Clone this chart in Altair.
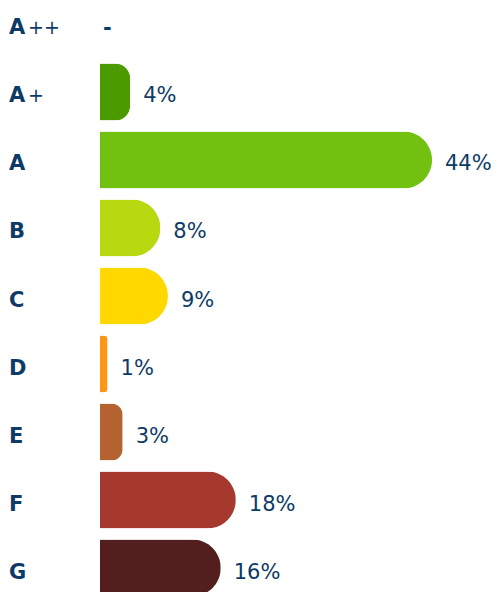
import altair as alt
import pandas as pd

classes = ["A++", "A+", "A", "B", "C", "D", "E", "F", "G"]
letters = ["A", "A", "A", "B", "C", "D", "E", "F", "G"]
suffixes = ["++", "+", "", "", "", "", "", "", ""]
values = [None, 4, 44, 8, 9, 1, 3, 18, 16]
labels = ["-", "4%", "44%", "8%", "9%", "1%", "3%", "18%", "16%"]
colors = ["#3f8f00", "#4b9a00", "#72c110", "#b8d80f", "#ffd800", "#ff9618", "#b4622f", "#a6392e", "#521e1e"]

df = pd.DataFrame({
    "cls": classes, "letter": letters, "suffix": suffixes,
    "value": values, "label": labels, "color": colors,
})

navy = "#0d3a66"
font = "DejaVu Sans"
y = alt.Y("cls:N", sort=classes, axis=None,
          scale=alt.Scale(range=[-4.5, 596.5], paddingInner=0.162, paddingOuter=0))
xs = alt.Scale(domain=[0, 44], range=[100, 432], nice=False, zero=True)

base = alt.Chart(df)

bars = base.transform_filter("datum.value != null").mark_bar(
    cornerRadiusEnd=28.5, orient="horizontal"
).encode(
    x=alt.X("value:Q", scale=xs, axis=None),
    y=y,
    color=alt.Color("color:N", scale=None),
)

vals = base.transform_filter("datum.value != null").mark_text(
    align="left", baseline="middle", dx=13, dy=4.5, font=font, fontSize=21, color=navy
).encode(x=alt.X("value:Q", scale=xs, axis=None), y=y, text="label:N")

dash = base.transform_filter("datum.value == null").mark_text(
    align="left", baseline="middle", dx=3, dy=5, font=font, fontSize=21, fontWeight="bold", color=navy
).encode(x=alt.value(100), y=y, text="label:N")

lett = base.mark_text(
    align="left", baseline="middle", dy=4.5, font=font, fontSize=21, fontWeight="bold", color=navy
).encode(x=alt.value(9), y=y, text="letter:N")

suf = base.transform_filter("datum.suffix != ''").mark_text(
    align="left", baseline="middle", dy=4.5, font=font, fontSize=19, color=navy
).encode(x=alt.value(28), y=y, text="suffix:N")

chart = alt.layer(bars, vals, dash, lett, suf).properties(
    width=498, height=592, padding=0
).configure_view(stroke=None)

chart.save("out.html", embed_options={"renderer": "svg", "actions": False})
